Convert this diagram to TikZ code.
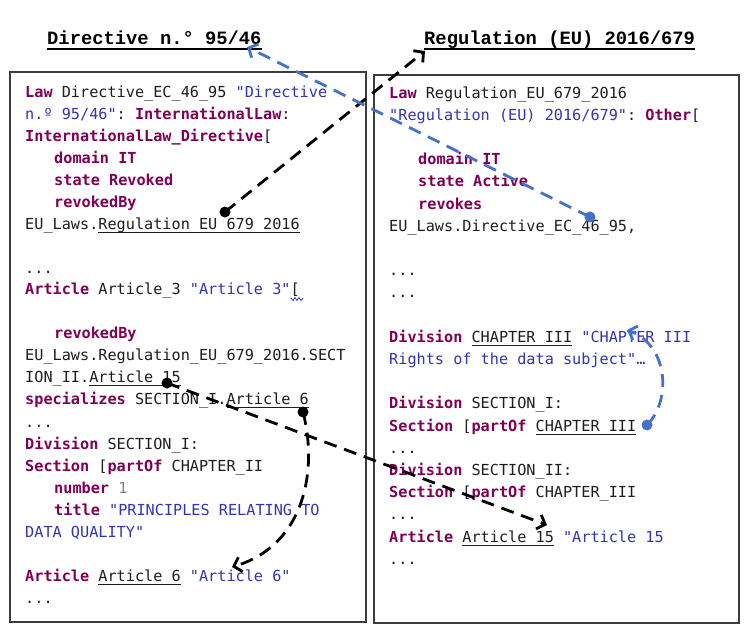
\documentclass[tikz,border=0pt]{standalone}
\usepackage{fontspec}
\setmonofont{DejaVu Sans Mono}
\newfontfamily\ttlfont{Liberation Mono}
\usetikzlibrary{arrows.meta}
\definecolor{kwcol}{RGB}{127,0,85}
\definecolor{strcol}{RGB}{52,52,178}
\definecolor{txtcol}{RGB}{30,30,30}
\definecolor{numcol}{RGB}{128,128,128}
\definecolor{bluearr}{RGB}{68,114,196}
\definecolor{boxcol}{RGB}{60,60,60}
\newcommand\kwd[1]{{\bfseries\color{kwcol}#1}}
\newcommand\strg[1]{{\color{strcol}#1}}
\newcommand\numg[1]{{\color{numcol}#1}}
\newcommand\undl[1]{\setbox0\hbox{#1}\rlap{\rule[-4pt]{\wd0}{1.1pt}}\box0\relax}
\newcommand\titleul[1]{\setbox0\hbox{#1}\rlap{\rule[-6pt]{\wd0}{1.8pt}}\box0\relax}
\tikzset{
  codeline/.style={anchor=base west, inner sep=0pt, font=\ttfamily\fontsize{15.2}{22}\selectfont, text=txtcol},
  ttl/.style={anchor=base west, inner sep=0pt, font=\ttlfont\bfseries\fontsize{18.8}{22}\selectfont},
  codebox/.style={draw=boxcol, line width=1.4pt},
  blkarr/.style={dash pattern=on 13pt off 8pt, line width=2.8pt, -{Straight Barb[length=7pt,width=15pt]}},
  bluarr/.style={blkarr, draw=bluearr},
  dotk/.style={circle, fill=black, inner sep=0pt, minimum size=11pt},
  dotb/.style={circle, fill=bluearr, inner sep=0pt, minimum size=11pt},
}
\begin{document}
\begin{tikzpicture}[x=1pt,y=-1pt]
\useasboundingbox (0,0) rectangle (752,637);
\fill[white] (0,0) rectangle (752,637);
% titles
\node[ttl] (dirttl) at (47,44) {\titleul{Directive n.° 95/46}};
\node[ttl] (regttl) at (424,44) {\titleul{Regulation (EU) 2016/679}};
% boxes
\draw[codebox] (10,72) rectangle (366,622);
\draw[codebox] (374,75) rectangle (739,623);
% left code
\node[codeline] (l0) at (25,97) {\kwd{Law} Directive\_EC\_46\_95 \strg{"Directive}};
\node[codeline] (l1) at (25,119) {\strg{n.º 95/46"}: \kwd{InternationalLaw}:};
\node[codeline] (l2) at (25,141) {\kwd{InternationalLaw\_Directive}[};
\node[codeline] (l3) at (54,163) {\kwd{domain IT}};
\node[codeline] (l4) at (54,185) {\kwd{state Revoked}};
\node[codeline] (l5) at (54,207) {\kwd{revokedBy}};
\node[codeline] (l6) at (25,229) {EU\_Laws.\undl{Regulation\_EU\_679\_2016}};
\node[codeline] (l8) at (25,273) {...};
\node[codeline] (l9) at (25,294) {\kwd{Article} Article\_3 \strg{"Article 3"}[};
\node[codeline] (l11) at (54,338) {\kwd{revokedBy}};
\node[codeline] (l12) at (25,360) {EU\_Laws.Regulation\_EU\_679\_2016.SECT};
\node[codeline] (l13) at (25,382) {ION\_II.\undl{Article\_15}};
\node[codeline] (l14) at (25,404) {\kwd{specializes} SECTION\_I.\undl{Article\_6}};
\node[codeline] (l15) at (25,427) {...};
\node[codeline] (l16) at (25,449) {\kwd{Division} SECTION\_I:};
\node[codeline] (l17) at (25,471) {\kwd{Section} [\kwd{partOf} CHAPTER\_II};
\node[codeline] (l18) at (54,493) {\kwd{number} \numg{1}};
\node[codeline] (l19) at (54,515) {\kwd{title} \strg{"PRINCIPLES RELATING TO}};
\node[codeline] (l20) at (25,537) {\strg{DATA QUALITY"}};
\node[codeline] (l22) at (25,581) {\kwd{Article} \undl{Article\_6} \strg{"Article 6"}};
\node[codeline] (l23) at (25,603) {...};
% spell-check squiggle
\draw[strcol, line width=0.8pt] (291,298) -- (293,300.5) -- (295,297.5) -- (297,300.5) -- (299,297.5) -- (301,300.5) -- (303,298);
% right code
\node[codeline] (r0) at (389,98) {\kwd{Law} Regulation\_EU\_679\_2016};
\node[codeline] (r1) at (389,120.2) {\strg{"Regulation (EU) 2016/679"}: \kwd{Other}[};
\node[codeline] (r3) at (418,164.6) {\kwd{domain IT}};
\node[codeline] (r4) at (418,186.8) {\kwd{state Active}};
\node[codeline] (r5) at (418,209) {\kwd{revokes}};
\node[codeline] (r6) at (389,231.2) {EU\_Laws.Directive\_EC\_46\_95,};
\node[codeline] (r8) at (389,275.6) {...};
\node[codeline] (r9) at (389,297.8) {...};
\node[codeline] (r11) at (389,342.2) {\kwd{Division} \undl{CHAPTER\_III} \strg{"CHAPTER III}};
\node[codeline] (r12) at (389,364.4) {\strg{Rights of the data subject"…}};
\node[codeline] (r14) at (389,408.8) {\kwd{Division} SECTION\_I:};
\node[codeline] (r15) at (389,431) {\kwd{Section} [\kwd{partOf} \undl{CHAPTER\_III}};
\node[codeline] (r16) at (389,453.2) {...};
\node[codeline] (r17) at (389,475.4) {\kwd{Division} SECTION\_II:};
\node[codeline] (r18) at (389,497.6) {\kwd{Section} [\kwd{partOf} CHAPTER\_III};
\node[codeline] (r19) at (389,519.8) {...};
\node[codeline] (r20) at (389,542) {\kwd{Article} \undl{Article\_15} \strg{"Article 15}};
\node[codeline] (r21) at (389,564.2) {...};
% connector ends
\coordinate (t1) at (425,51);
\coordinate (t2) at (247,47);
\coordinate (t3) at (547,525);
\coordinate (t4) at (232,567);
\coordinate (t5) at (627,330);
% dots
\node[dotk] (d1) at (225,212) {};
\node[dotk] (d3) at (167,383) {};
\node[dotk] (d4) at (303,412) {};
\node[dotb] (d2) at (590,217) {};
\node[dotb] (d5) at (647,425) {};
% connectors
\draw[blkarr] (d1.center) -- (t1);
\draw[bluarr] (d2.center) -- (t2);
\draw[blkarr] (d3.center) -- (t3);
\draw[blkarr] (d4.center) .. controls (318,470) and (305,545) .. (t4);
\draw[bluarr] (d5.center) .. controls (672,400) and (668,345) .. (t5);
\end{tikzpicture}
\end{document}
